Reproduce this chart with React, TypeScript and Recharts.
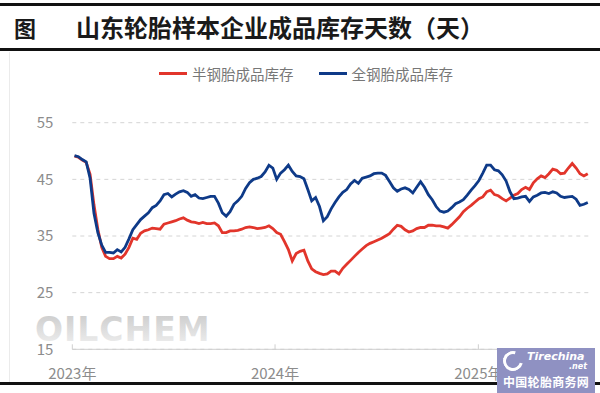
import React from 'react';
import { LineChart, Line, XAxis, YAxis, CartesianGrid, Legend } from 'recharts';

// weekly data, first week 2023-01-05
const firstWeek = '2023-01-05';
const yearLabels = ['2023年', '2024年', '2025年'];
const yTicks = [15, 25, 35, 45, 55];

const semiSteel = [
  49.1, 48.9, 48.4, 48.0, 45.9, 40.5, 36.2, 33.0, 31.4, 31.0,
  31.0, 31.4, 31.1, 31.8, 33.0, 34.6, 34.4, 35.5, 35.9, 36.1,
  36.4, 36.3, 36.2, 37.1, 37.3, 37.5, 37.7, 38.0, 38.2, 37.8,
  37.5, 37.4, 37.2, 37.4, 37.2, 37.2, 37.3, 36.8, 35.6, 35.6,
  35.9, 35.9, 36.0, 36.2, 36.5, 36.6, 36.5, 36.3, 36.4, 36.5,
  36.8, 36.3, 35.6, 35.3, 34.0, 32.6, 30.6, 31.9, 32.3, 32.5,
  30.6, 29.2, 28.7, 28.4, 28.2, 28.3, 28.8, 28.8, 28.3, 29.3,
  30.0, 30.7, 31.4, 32.1, 32.7, 33.3, 33.7, 34.0, 34.3, 34.6,
  35.0, 35.4, 36.2, 36.9, 36.7, 36.1, 35.7, 35.9, 36.3, 36.5,
  36.5, 36.9, 36.9, 36.8, 36.8, 36.6, 36.4, 37.0, 37.7, 38.4,
  39.3, 39.9, 40.4, 41.0, 41.6, 41.9, 42.8, 43.1, 42.3, 42.1,
  41.6, 41.2, 41.7, 42.2, 42.5, 43.2, 43.6, 43.2, 44.4, 45.1,
  45.6, 45.3, 46.0, 46.8, 46.6, 46.0, 46.1, 47.0, 47.8, 47.0,
  46.0, 45.6, 46.0,
];

const allSteel = [
  49.2, 49.0, 48.5, 48.1, 45.2, 39.0, 35.6, 33.4, 32.1, 32.1,
  32.0, 32.6, 32.2, 33.0, 34.5, 36.1, 37.0, 37.9, 38.5, 39.1,
  40.0, 40.4, 41.2, 42.3, 42.5, 41.9, 42.4, 42.8, 43.0, 42.7,
  42.0, 42.3, 41.7, 41.6, 41.8, 42.0, 42.0, 40.8, 39.1, 38.5,
  39.3, 40.6, 41.2, 42.0, 43.4, 44.4, 45.0, 45.2, 45.5, 46.3,
  47.5, 47.0, 45.0, 46.1, 46.7, 47.5, 46.4, 45.6, 45.5, 45.1,
  43.2, 41.2, 41.8, 40.2, 37.7, 38.4, 39.8, 40.9, 41.9, 42.7,
  43.2, 44.2, 44.8, 44.3, 45.2, 45.4, 45.6, 46.0, 46.1, 46.1,
  45.7, 44.6, 43.5, 42.9, 43.3, 43.5, 43.2, 42.6, 43.6, 44.6,
  43.6, 42.3, 41.4, 40.2, 39.4, 39.2, 39.4, 40.0, 40.7, 41.0,
  41.4, 42.2, 43.1, 43.9, 44.8, 46.1, 47.5, 47.5, 46.7, 46.5,
  45.8, 44.7, 42.8, 41.6, 41.7, 41.9, 42.0, 41.1, 41.9, 42.2,
  42.6, 42.7, 42.5, 42.8, 42.6, 42.0, 41.8, 41.9, 42.0, 41.5,
  40.4, 40.6, 40.9,
];

const DAY = 86400000;
const origin = Date.UTC(2023, 0, 1);
const firstDay = (Date.parse(firstWeek) - origin) / DAY;
const yearTicks = yearLabels.map((l) => (Date.UTC(parseInt(l, 10), 0, 1) - origin) / DAY);

const data = semiSteel.map((v, i) => ({
  day: firstDay + i * 7,
  semi: v,
  all: allSteel[i],
}));

const RED = '#e2352b';
const BLUE = '#0e3a88';
const FONT = '"Noto Sans CJK SC", "Noto Sans", sans-serif';

const XTick = (props: any) => {
  const { x, y, payload } = props;
  const idx = yearTicks.indexOf(payload.value);
  return (
    <g>
      <line x1={x} x2={x} y1={y - 5} y2={y} stroke="#cfcfcf" />
      <text x={x} y={y + 30} textAnchor="middle" fill="#8c8c8c" fontSize={15} fontFamily={FONT}>
        {yearLabels[idx]}
      </text>
    </g>
  );
};

const renderLegend = () => (
  <div style={{ display: 'flex', alignItems: 'center', paddingLeft: 159, fontFamily: FONT, fontSize: 14.5, color: '#777' }}>
    <span style={{ display: 'inline-block', width: 28, height: 3, background: RED }} />
    <span style={{ marginLeft: 5 }}>半钢胎成品库存</span>
    <span style={{ display: 'inline-block', width: 28, height: 3, background: BLUE, marginLeft: 25 }} />
    <span style={{ marginLeft: 5 }}>全钢胎成品库存</span>
  </div>
);

export default function App() {
  return (
    <div style={{ position: 'absolute', left: 0, top: 0, width: 600, height: 393, background: '#fff', overflow: 'hidden' }}>
      {/* title band */}
      <div style={{ position: 'absolute', left: 0, top: 3, width: 600, height: 3, background: '#111' }} />
      <div style={{ position: 'absolute', left: 0, top: 48, width: 600, height: 2.5, background: '#111' }} />
      <div style={{ position: 'absolute', left: 14, top: 13, fontFamily: FONT, fontSize: 22, fontWeight: 700, color: '#1a1a1a', lineHeight: '28px' }}>图</div>
      <div style={{ position: 'absolute', left: 76, top: 12, fontFamily: FONT, fontSize: 24, fontWeight: 700, color: '#1a1a1a', lineHeight: '30px', whiteSpace: 'nowrap' }}>
        山东轮胎样本企业成品库存天数（天）
      </div>
      <div style={{ position: 'absolute', left: 9, top: 52, width: 1, height: 330, background: '#ebebeb' }} />

      {/* watermark */}
      <svg width={600} height={393} style={{ position: 'absolute', left: 0, top: 0 }}>
        <defs>
          <linearGradient id="wm" x1="0" y1="0" x2="0" y2="1">
            <stop offset="0%" stopColor="#c9c9c9" />
            <stop offset="100%" stopColor="#f2f2f2" />
          </linearGradient>
        </defs>
        <text x={35} y={341} fontFamily="DejaVu Sans" fontWeight={700} fontSize={33} letterSpacing={1} fill="url(#wm)">OILCHEM</text>
      </svg>

      <div style={{ position: 'absolute', left: 0, top: 0 }}>
        <LineChart width={600} height={393} data={data} margin={{ top: 101.7, right: 10, bottom: 13.7, left: 0 }}>
          <CartesianGrid vertical={false} stroke="#d4d4d4" strokeDasharray="4 4" />
          <XAxis
            type="number"
            dataKey="day"
            domain={[0, 932]}
            ticks={yearTicks}
            interval={0}
            height={30}
            tickSize={0}
            tickMargin={0}
            tickLine={false}
            axisLine={{ stroke: '#cfcfcf' }}
            tick={<XTick />}
          />
          <YAxis
            domain={[15, 55]}
            ticks={yTicks}
            width={72.3}
            tickSize={0}
            tickMargin={19}
            axisLine={false}
            tickLine={false}
            tick={{ fill: '#8c8c8c', fontSize: 15, fontFamily: FONT }}
          />
          <Legend verticalAlign="top" content={renderLegend} wrapperStyle={{ top: 63, left: 0, width: 600 }} />
          <Line type="linear" dataKey="semi" name="半钢胎成品库存" stroke={RED} strokeWidth={2.8} dot={false} isAnimationActive={false} />
          <Line type="linear" dataKey="all" name="全钢胎成品库存" stroke={BLUE} strokeWidth={2.8} dot={false} isAnimationActive={false} />
        </LineChart>
      </div>

      <div style={{ position: 'absolute', left: 0, top: 382, width: 600, height: 3, background: '#111' }} />

      {/* tirechina badge */}
      <div style={{ position: 'absolute', left: 497, top: 348, width: 98, height: 45, background: '#8f91c2', fontFamily: FONT, color: '#fff' }}>
        <div style={{ position: 'absolute', left: 6, top: 3, width: 20, height: 20, borderRadius: '50%', border: '3px solid #fff', borderRightColor: 'transparent', boxSizing: 'border-box', transform: 'rotate(-30deg)' }} />
        <div style={{ position: 'absolute', left: 30, top: 3, fontFamily: '"DejaVu Sans"', fontStyle: 'italic', fontWeight: 700, fontSize: 11, lineHeight: '12px' }}>Tirechina</div>
        <div style={{ position: 'absolute', left: 72, top: 14, fontFamily: '"DejaVu Sans"', fontStyle: 'italic', fontWeight: 700, fontSize: 8, lineHeight: '9px' }}>.net</div>
        <div style={{ position: 'absolute', left: 6, top: 27, fontSize: 12, fontWeight: 700, lineHeight: '14px', letterSpacing: 0.3, whiteSpace: 'nowrap' }}>中国轮胎商务网</div>
      </div>
    </div>
  );
}
